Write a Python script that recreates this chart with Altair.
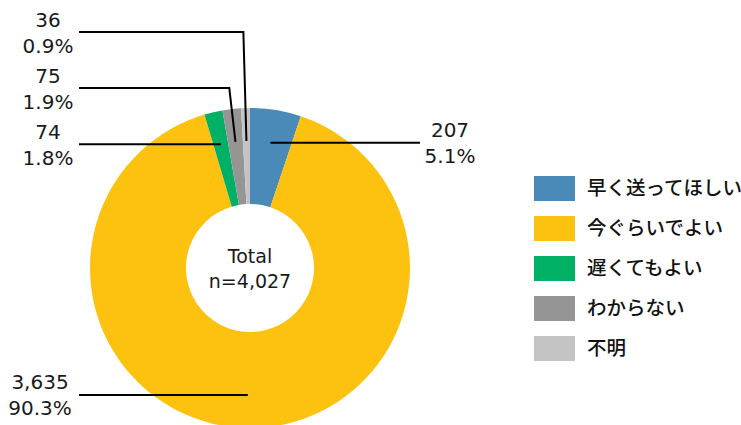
import altair as alt
import pandas as pd
import numpy as np

# ---- data ----
categories = ["早く送ってほしい", "今ぐらいでよい", "遅くてもよい", "わからない", "不明"]
counts = [207, 3635, 74, 75, 36]
colors = ["#4A8AB9", "#FDC20F", "#00B064", "#959595", "#C4C4C4"]
center_lines = ["Total", "n=4,027"]

# ---- layout ----
W, H = 741, 425
CX, CY = 250, 268
R_OUT, R_IN, R_ANCHOR = 160, 64, 127
label_line_y = [None, None, None, 88, 32]     # None -> horizontal at anchor height
label_end_x = [420, 79, 79, 79, 79]
label_text_x = [450, 40, 48, 48, 48]
LEG_X, LEG_TX, LEG_Y0, LEG_DY = 554.5, 587, 188.5, 40
NUM_FONT = "DejaVu Sans"
JP_FONT = "Noto Sans CJK JP"

total = sum(counts)
cum = np.cumsum(counts)
mids = (cum - np.array(counts) / 2) / total * 2 * np.pi

pie = pd.DataFrame({"cat": categories, "count": counts, "idx": range(len(counts))})

line_rows, text_rows = [], []
for i, (c, m) in enumerate(zip(counts, mids)):
    ax = CX + R_ANCHOR * np.sin(m)
    ay = CY - R_ANCHOR * np.cos(m)
    pts = [(ax, ay)]
    ly = ay if label_line_y[i] is None else label_line_y[i]
    if label_line_y[i] is not None:
        pts.append((CX + (CY - ly) * np.tan(m), ly))
    pts.append((label_end_x[i], ly))
    for k, (px, py) in enumerate(pts):
        line_rows.append({"g": i, "k": k, "x": px, "y": py})
    pct = f"{c / total * 100:.1f}%"
    text_rows.append({"x": label_text_x[i], "y": ly - 11.5, "t": f"{c:,}"})
    text_rows.append({"x": label_text_x[i], "y": ly + 14.5, "t": pct})
lines = pd.DataFrame(line_rows)
texts = pd.DataFrame(text_rows)

legend = pd.DataFrame({
    "cat": categories,
    "y": [LEG_Y0 + i * LEG_DY for i in range(len(categories))],
})
center = pd.DataFrame({"t": center_lines, "y": [257, 282]})

xs = alt.Scale(domain=[0, W], range=[0, W], nice=False, zero=False)
ys = alt.Scale(domain=[0, H], range=[0, H], nice=False, zero=False)
cs = alt.Scale(domain=categories, range=colors)

arc = alt.Chart(pie).mark_arc(outerRadius=R_OUT, innerRadius=R_IN, strokeWidth=0).encode(
    theta=alt.Theta("count:Q", stack=True),
    color=alt.Color("cat:N", scale=cs, legend=None),
    order=alt.Order("idx:Q"),
    x=alt.value(CX), y=alt.value(CY),
)

leader = alt.Chart(lines).mark_line(color="black", strokeWidth=2).encode(
    x=alt.X("x:Q", scale=xs, axis=None),
    y=alt.Y("y:Q", scale=ys, axis=None),
    detail="g:N",
    order="k:Q",
)

labels = alt.Chart(texts).mark_text(font=NUM_FONT, fontSize=20, color="#1a1a1a",
                                    align="center", baseline="middle").encode(
    x=alt.X("x:Q", scale=xs, axis=None),
    y=alt.Y("y:Q", scale=ys, axis=None),
    text="t:N",
)

ctext = alt.Chart(center).mark_text(font=NUM_FONT, fontSize=19, color="#1a1a1a",
                                    align="center", baseline="middle").encode(
    x=alt.value(CX),
    y=alt.Y("y:Q", scale=ys, axis=None),
    text="t:N",
)

leg_sym = alt.Chart(legend).mark_point(
    shape="M-1,-0.61L1,-0.61L1,0.61L-1,0.61Z", size=1681, filled=True, opacity=1, strokeWidth=0
).encode(
    x=alt.value(LEG_X),
    y=alt.Y("y:Q", scale=ys, axis=None),
    color=alt.Color("cat:N", scale=cs, legend=None),
)

leg_txt = alt.Chart(legend).mark_text(font=JP_FONT, fontSize=19.5, fontWeight=500, color="#111111",
                                      align="left", baseline="middle").encode(
    x=alt.value(LEG_TX),
    y=alt.Y("y:Q", scale=ys, axis=None),
    text="cat:N",
)

chart = alt.layer(arc, leader, labels, ctext, leg_sym, leg_txt).properties(
    width=W, height=H, padding=0, autosize="none", background="white"
).configure_view(stroke=None)

chart.save("out.html", embed_options={"renderer": "svg", "actions": False})
